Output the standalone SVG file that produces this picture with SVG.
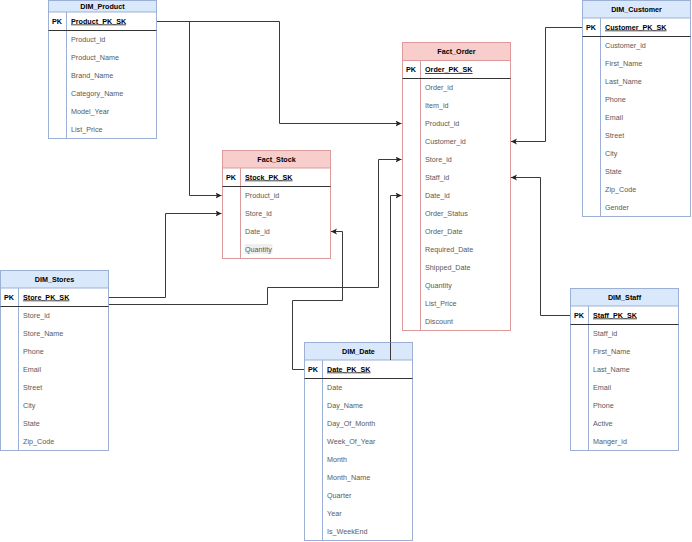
<svg xmlns="http://www.w3.org/2000/svg" width="692" height="542" viewBox="0 0 692 542">
<defs>
<style>
.dh{fill:#dae8fc;stroke:#9bb0d4;stroke-width:1}
.fh{fill:#f8cecc;stroke:#dc9a9a;stroke-width:1}
.db{fill:#fff;stroke:#9bb0d4;stroke-width:1}
.fb{fill:#fff;stroke:#dc9a9a;stroke-width:1}
.dv{stroke:#9bb0d4;stroke-width:1}
.fv{stroke:#dc9a9a;stroke-width:1}
.sep{stroke:#333;stroke-width:1}
text{font-family:"Liberation Sans",Arial,sans-serif;font-size:7.2px}
.h{font-weight:bold;fill:#000;text-anchor:middle}
.k{font-weight:bold;fill:#000}
.pk{font-weight:bold;fill:#000;text-decoration:underline}
.f{fill:#5a5a5a}
.c{fill:none;stroke:#3a3a3a;stroke-width:1}
</style>
<marker id="arr" markerUnits="userSpaceOnUse" markerWidth="7" markerHeight="7" refX="6" refY="3" orient="auto">
<path d="M0,0 L6,3 L0,6 L1.5,3 z" fill="#222"/>
</marker>
</defs>
<rect width="692" height="542" fill="#fff"/>

<g id="connectors">
<path class="c" d="M156.5,21.5 H279.5 V123.5 H401.5" marker-end="url(#arr)"/>
<path class="c" d="M156.5,21.5 H189.5 V195.5 H221.5" marker-end="url(#arr)"/>
<path class="c" d="M108.5,297.5 H165.5 V213.5 H221.5" marker-end="url(#arr)"/>
<path class="c" d="M108.5,304.5 H267.5 V287.5 H378.5 V159.5 H401.5" marker-end="url(#arr)"/>
<path class="c" d="M304.5,369.5 H292.5 V300.5 H342.5 V231.5 H331" marker-end="url(#arr)"/>
<path class="c" d="M390.5,360.5 V195.5 H401.5" marker-end="url(#arr)"/>
<path class="c" d="M582.5,27.5 H545.5 V141.5 H511" marker-end="url(#arr)"/>
<path class="c" d="M570.5,315.5 H540.5 V177.5 H511" marker-end="url(#arr)"/>
</g>

<g id="DIM_Product">
<rect class="db" x="48.5" y="0.5" width="108" height="138"/>
<rect class="dh" x="48.5" y="0.5" width="108" height="11.5"/>
<line class="dv" x1="66.5" y1="12" x2="66.5" y2="138.5"/>
<line class="sep" x1="48.5" y1="30.5" x2="156.5" y2="30.5"/>
<text class="h" x="102.5" y="8.8">DIM_Product</text>
<text class="k" x="52" y="23.5">PK</text>
<text class="pk" x="71" y="23.5">Product_PK_SK</text>
<text class="f" x="71" y="41.5">Product_id</text>
<text class="f" x="71" y="59.5">Product_Name</text>
<text class="f" x="71" y="77.5">Brand_Name</text>
<text class="f" x="71" y="95.5">Category_Name</text>
<text class="f" x="71" y="113.5">Model_Year</text>
<text class="f" x="71" y="131.5">List_Price</text>
</g>

<g id="Fact_Order">
<rect class="fb" x="402.5" y="42.5" width="108" height="288"/>
<rect class="fh" x="402.5" y="42.5" width="108" height="18"/>
<line class="fv" x1="420.5" y1="60.5" x2="420.5" y2="330.5"/>
<line class="sep" x1="402.5" y1="78.5" x2="510.5" y2="78.5"/>
<text class="h" x="456.5" y="54">Fact_Order</text>
<text class="k" x="406" y="72">PK</text>
<text class="pk" x="425" y="72">Order_PK_SK</text>
<text class="f" x="425" y="90">Order_id</text>
<text class="f" x="425" y="108">Item_id</text>
<text class="f" x="425" y="126">Product_id</text>
<text class="f" x="425" y="144">Customer_id</text>
<text class="f" x="425" y="162">Store_id</text>
<text class="f" x="425" y="180">Staff_id</text>
<text class="f" x="425" y="198">Date_id</text>
<text class="f" x="425" y="216">Order_Status</text>
<text class="f" x="425" y="234">Order_Date</text>
<text class="f" x="425" y="252">Required_Date</text>
<text class="f" x="425" y="270">Shipped_Date</text>
<text class="f" x="425" y="288">Quantity</text>
<text class="f" x="425" y="306">List_Price</text>
<text class="f" x="425" y="324">Discount</text>
</g>

<g id="DIM_Customer">
<rect class="db" x="582.5" y="0.5" width="108" height="216"/>
<rect class="dh" x="582.5" y="0.5" width="108" height="17.5"/>
<line class="dv" x1="600.5" y1="18" x2="600.5" y2="216.5"/>
<line class="sep" x1="582.5" y1="36.5" x2="690.5" y2="36.5"/>
<text class="h" x="636.5" y="11.5">DIM_Customer</text>
<text class="k" x="586" y="29.5">PK</text>
<text class="pk" x="605" y="29.5">Customer_PK_SK</text>
<text class="f" x="605" y="47.5">Customer_id</text>
<text class="f" x="605" y="65.5">First_Name</text>
<text class="f" x="605" y="83.5">Last_Name</text>
<text class="f" x="605" y="101.5">Phone</text>
<text class="f" x="605" y="119.5">Email</text>
<text class="f" x="605" y="137.5">Street</text>
<text class="f" x="605" y="155.5">City</text>
<text class="f" x="605" y="173.5">State</text>
<text class="f" x="605" y="191.5">Zip_Code</text>
<text class="f" x="605" y="209.5">Gender</text>
</g>

<g id="Fact_Stock">
<rect class="fb" x="222.5" y="150.5" width="108" height="108"/>
<rect class="fh" x="222.5" y="150.5" width="108" height="17.5"/>
<line class="fv" x1="240.5" y1="168" x2="240.5" y2="258.5"/>
<line class="sep" x1="222.5" y1="186.5" x2="330.5" y2="186.5"/>
<text class="h" x="276.5" y="161.5">Fact_Stock</text>
<text class="k" x="226" y="179.5">PK</text>
<text class="pk" x="245" y="179.5">Stock_PK_SK</text>
<text class="f" x="245" y="197.5">Product_id</text>
<text class="f" x="245" y="215.5">Store_id</text>
<text class="f" x="245" y="233.5">Date_id</text>
<rect x="244.5" y="244" width="28" height="10" fill="#efefef"/>
<text class="f" x="245" y="251.5">Quantity</text>
</g>

<g id="DIM_Stores">
<rect class="db" x="0.5" y="270.5" width="108" height="180"/>
<rect class="dh" x="0.5" y="270.5" width="108" height="17.5"/>
<line class="dv" x1="18.5" y1="288" x2="18.5" y2="450.5"/>
<line class="sep" x1="0.5" y1="306.5" x2="108.5" y2="306.5"/>
<text class="h" x="54.5" y="281.5">DIM_Stores</text>
<text class="k" x="4" y="299.5">PK</text>
<text class="pk" x="23" y="299.5">Store_PK_SK</text>
<text class="f" x="23" y="317.5">Store_id</text>
<text class="f" x="23" y="335.5">Store_Name</text>
<text class="f" x="23" y="353.5">Phone</text>
<text class="f" x="23" y="371.5">Email</text>
<text class="f" x="23" y="389.5">Street</text>
<text class="f" x="23" y="407.5">City</text>
<text class="f" x="23" y="425.5">State</text>
<text class="f" x="23" y="443.5">Zip_Code</text>
</g>

<g id="DIM_Date">
<rect class="db" x="304.5" y="342.5" width="108" height="198"/>
<rect class="dh" x="304.5" y="342.5" width="108" height="17.5"/>
<line class="dv" x1="322.5" y1="360" x2="322.5" y2="540.5"/>
<line class="sep" x1="304.5" y1="378.5" x2="412.5" y2="378.5"/>
<line class="c" x1="390.5" y1="342.5" x2="390.5" y2="360"/>
<text class="h" x="358.5" y="353.5">DIM_Date</text>
<text class="k" x="308" y="371.5">PK</text>
<text class="pk" x="327" y="371.5">Date_PK_SK</text>
<text class="f" x="327" y="389.5">Date</text>
<text class="f" x="327" y="407.5">Day_Name</text>
<text class="f" x="327" y="425.5">Day_Of_Month</text>
<text class="f" x="327" y="443.5">Week_Of_Year</text>
<text class="f" x="327" y="461.5">Month</text>
<text class="f" x="327" y="479.5">Month_Name</text>
<text class="f" x="327" y="497.5">Quarter</text>
<text class="f" x="327" y="515.5">Year</text>
<text class="f" x="327" y="533.5">Is_WeekEnd</text>
</g>

<g id="DIM_Staff">
<rect class="db" x="570.5" y="288.5" width="108" height="162"/>
<rect class="dh" x="570.5" y="288.5" width="108" height="17.5"/>
<line class="dv" x1="588.5" y1="306" x2="588.5" y2="450.5"/>
<line class="sep" x1="570.5" y1="324.5" x2="678.5" y2="324.5"/>
<text class="h" x="624.5" y="299.5">DIM_Staff</text>
<text class="k" x="574" y="317.5">PK</text>
<text class="pk" x="593" y="317.5">Staff_PK_SK</text>
<text class="f" x="593" y="335.5">Staff_id</text>
<text class="f" x="593" y="353.5">First_Name</text>
<text class="f" x="593" y="371.5">Last_Name</text>
<text class="f" x="593" y="389.5">Email</text>
<text class="f" x="593" y="407.5">Phone</text>
<text class="f" x="593" y="425.5">Active</text>
<text class="f" x="593" y="443.5">Manger_id</text>
</g>
</svg>
